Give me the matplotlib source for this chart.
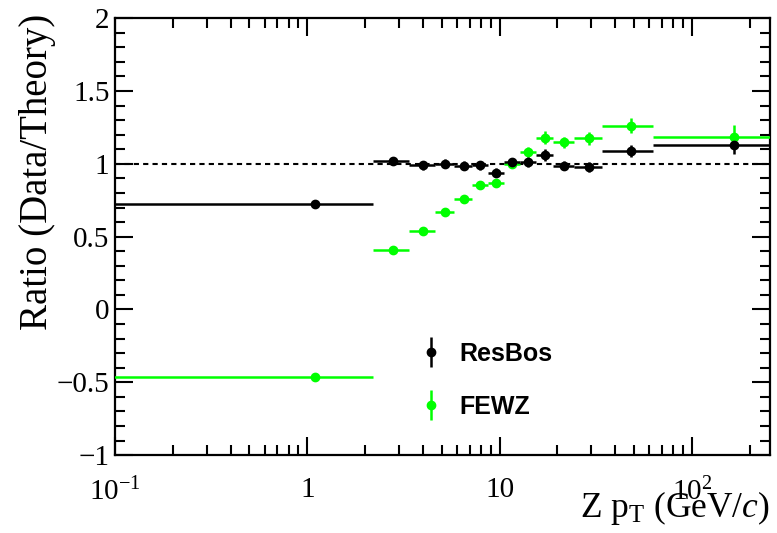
import matplotlib
matplotlib.use("Agg")
import numpy as np
import matplotlib.pyplot as plt
from matplotlib.ticker import FixedLocator, FixedFormatter, MultipleLocator, LogLocator, NullFormatter
from matplotlib.legend_handler import HandlerErrorbar

plt.rcParams['font.family'] = 'Liberation Serif'
plt.rcParams['mathtext.fontset'] = 'custom'
plt.rcParams['mathtext.rm'] = 'Liberation Serif'
plt.rcParams['mathtext.it'] = 'Liberation Serif:italic'

# Z pT binning (GeV/c)
bin_edges = [0.0, 2.2, 3.4, 4.6, 5.8, 7.2, 8.7, 10.5, 12.8, 15.4, 19.0, 24.5, 34.0, 63.0, 270.0]

# Data / theory ratios
resbos_ratio = [0.724, 1.019, 0.990, 1.002, 0.986, 0.990, 0.940, 1.009, 1.014, 1.060, 0.986, 0.977, 1.090, 1.129]
resbos_err = [0.010, 0.030, 0.030, 0.030, 0.030, 0.030, 0.030, 0.030, 0.035, 0.040, 0.030, 0.035, 0.040, 0.060]
fewz_ratio = [-0.460, 0.405, 0.538, 0.669, 0.757, 0.853, 0.871, 1.000, 1.083, 1.179, 1.147, 1.175, 1.262, 1.186]
fewz_err = [0.005, 0.010, 0.010, 0.010, 0.015, 0.020, 0.025, 0.030, 0.035, 0.045, 0.040, 0.045, 0.050, 0.080]

series_labels = ['ResBos', 'FEWZ']
xtick_values = [0.1, 1, 10, 100]
xtick_labels = [r'$\mathregular{10^{-1}}$', '1', '10', r'$\mathregular{10^{2}}$']

edges = np.array(bin_edges)
centers = 0.5 * (edges[:-1] + edges[1:])
half_w = 0.5 * (edges[1:] - edges[:-1])

fig = plt.figure(figsize=(7.77, 5.33), dpi=100)
ax = fig.add_axes([0.148, 0.146, 0.843, 0.820])
ax.set_xscale('log')
ax.set_xlim(0.1, 255)
ax.set_ylim(-1, 2)

ax.axhline(1.0, color='black', lw=1.5, ls=(0, (2.5, 2)), zorder=1)

kw = dict(fmt='o', ms=6, elinewidth=1.8, capsize=0, zorder=3)
h_fewz = ax.errorbar(centers, fewz_ratio, xerr=half_w, yerr=fewz_err,
                     color='#00ff00', ecolor='#00ff00', **kw)
h_res = ax.errorbar(centers, resbos_ratio, xerr=half_w, yerr=resbos_err,
                    color='black', ecolor='black', **kw)

# legend proxies: marker with a vertical bar only
p_res = ax.errorbar([], [], yerr=[], fmt='o', ms=6, elinewidth=1.8, capsize=0, color='black')
p_fewz = ax.errorbar([], [], yerr=[], fmt='o', ms=6, elinewidth=1.8, capsize=0, color='#00ff00')
leg = ax.legend([p_res, p_fewz], series_labels, loc='upper left',
                bbox_to_anchor=(0.445, 0.287), frameon=False,
                prop={'family': 'Liberation Sans', 'weight': 'bold', 'size': 18},
                handlelength=1.0, handletextpad=0.62, labelspacing=1.15,
                borderpad=0, handler_map={type(p_res): HandlerErrorbar(yerr_size=0.6)})

ax.xaxis.set_major_locator(FixedLocator(xtick_values))
ax.xaxis.set_major_formatter(FixedFormatter(xtick_labels))
ax.xaxis.set_minor_locator(LogLocator(base=10, subs=np.arange(2, 10)))
ax.xaxis.set_minor_formatter(NullFormatter())
ax.yaxis.set_major_locator(MultipleLocator(0.5))
ax.yaxis.set_minor_locator(MultipleLocator(0.1))
ax.yaxis.set_major_formatter(plt.FuncFormatter(
    lambda v, p: ('\u2212' if v < 0 else '') + (f'{abs(v):g}')))

ax.tick_params(which='both', direction='in', top=True, right=True, width=1.5, labelsize=21)
ax.tick_params(which='major', length=13)
ax.tick_params(which='minor', length=7)
ax.tick_params(axis='x', which='major', pad=16)
ax.tick_params(axis='y', which='major', pad=4)
for s in ax.spines.values():
    s.set_linewidth(1.6)

ax.set_xlabel(r'Z p$_{\mathregular{T}}$ (GeV/$\mathit{c}$)', fontsize=25.5, loc='right')
ax.xaxis.set_label_coords(1.0, -0.078)
ax.set_ylabel('Ratio (Data/Theory)', fontsize=28, loc='top')
ax.yaxis.set_label_coords(-0.09, 1.011)

fig.savefig('out.png', dpi=100)
